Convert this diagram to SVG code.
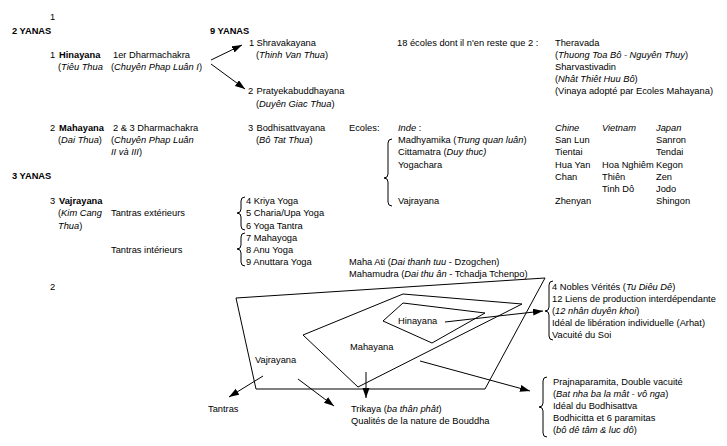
<svg xmlns="http://www.w3.org/2000/svg" width="727" height="446" viewBox="0 0 727 446">
<style>
text{font-family:"Liberation Sans",Arial,sans-serif;font-size:9.3px;fill:#000}
.b{font-weight:bold}
.i{font-style:italic}
.ln{stroke:#000;stroke-width:1;fill:none}
.ar{stroke:#000;stroke-width:1;fill:none;marker-end:url(#ah)}
</style>
<defs>
<marker id="ah" markerUnits="userSpaceOnUse" markerWidth="11" markerHeight="8" refX="10" refY="3.5" orient="auto">
<path d="M0,0 L10,3.5 L0,7 z" fill="#000"/>
</marker>
</defs>
<rect width="727" height="446" fill="#fff"/>

<g id="headers">
<text x="50" y="20">1</text>
<text x="12" y="33.5" class="b">2 YANAS</text>
<text x="210" y="33.5" class="b">9 YANAS</text>
<text x="12" y="179" class="b">3 YANAS</text>
<text x="50" y="289.5">2</text>
</g>

<g id="hinayana">
<text x="50" y="57.7">1</text><text x="59" y="57.7" class="b">Hinayana</text>
<text x="58" y="69.9">(<tspan class="i">Tiêu Thua</tspan></text>
<text x="113" y="57.7">1er Dharmachakra</text>
<text x="111" y="69.9">(<tspan class="i">Chuyên Phap Luân I</tspan>)</text>
</g>

<g id="shravakayana">
<text x="249" y="45.5">1</text><text x="256.5" y="45.5">Shravakayana</text>
<text x="256" y="57.7">(<tspan class="i">Thinh Van Thua</tspan>)</text>
</g>

<g id="pratyekabuddhayana">
<text x="248" y="94.3">2</text><text x="256.5" y="94.3">Pratyekabuddhayana</text>
<text x="256" y="106.5">(<tspan class="i">Duyên Giac Thua</tspan>)</text>
</g>

<g id="ecoles18">
<text x="397" y="45.5">18 écoles dont il n'en reste que 2 :</text>
<text x="555" y="45.5">Theravada</text>
<text x="555" y="57.7">(<tspan class="i">Thuong Toa Bô - Nguyên Thuy</tspan>)</text>
<text x="555" y="69.9">Sharvastivadin</text>
<text x="555" y="82.1">(<tspan class="i">Nhât Thiêt Huu Bô</tspan>)</text>
<text x="555" y="94.3">(Vinaya adopté par Ecoles Mahayana)</text>
</g>

<g id="mahayana">
<text x="50" y="131">2</text><text x="59" y="131" class="b">Mahayana</text>
<text x="58" y="143.1">(<tspan class="i">Dai Thua</tspan>)</text>
<text x="113" y="131">2 &amp; 3 Dharmachakra</text>
<text x="111" y="143.1">(<tspan class="i">Chuyên Phap Luân</tspan></text>
<text x="111" y="155.3" class="i">II và III<tspan style="font-style:normal">)</tspan></text>
</g>

<g id="bodhisattvayana">
<text x="248" y="131">3</text><text x="256.5" y="131">Bodhisattvayana</text>
<text x="256" y="143.1">(<tspan class="i">Bô Tat Thua</tspan>)</text>
</g>

<g id="ecoles">
<text x="349" y="131">Ecoles:</text>
<text x="398" y="131"><tspan class="i">Inde</tspan> :</text>
<text x="398" y="143.1">Madhyamika (<tspan class="i">Trung quan luân</tspan>)</text>
<text x="398" y="155.3">Cittamatra (<tspan class="i">Duy thuc)</tspan></text>
<text x="398" y="167.5">Yogachara</text>
<text x="398" y="204.1">Vajrayana</text>
<text x="555" y="131" class="i">Chine</text>
<text x="602" y="131" class="i">Vietnam</text>
<text x="656" y="131" class="i">Japan</text>
<text x="555" y="143.1">San Lun</text>
<text x="656" y="143.1">Sanron</text>
<text x="555" y="155.3">Tientai</text>
<text x="656" y="155.3">Tendai</text>
<text x="555" y="167.5">Hua Yan</text>
<text x="602" y="167.5">Hoa Nghiêm</text>
<text x="656" y="167.5">Kegon</text>
<text x="555" y="179.7">Chan</text>
<text x="602" y="179.7">Thiên</text>
<text x="656" y="179.7">Zen</text>
<text x="602" y="191.9">Tinh Dô</text>
<text x="656" y="191.9">Jodo</text>
<text x="555" y="204.1">Zhenyan</text>
<text x="656" y="204.1">Shingon</text>
</g>

<g id="vajrayana">
<text x="50" y="204.1">3</text><text x="59" y="204.1" class="b">Vajrayana</text>
<text x="58" y="216.3">(<tspan class="i">Kim Cang</tspan></text>
<text x="58" y="228.5"><tspan class="i">Thua</tspan>)</text>
<text x="111" y="216.3">Tantras extérieurs</text>
<text x="111" y="252.9">Tantras intérieurs</text>
</g>

<g id="tantras9">
<text x="246" y="204.1">4 Kriya Yoga</text>
<text x="246" y="216.3">5 Charia/Upa Yoga</text>
<text x="246" y="228.5">6 Yoga Tantra</text>
<text x="246" y="240.7">7 Mahayoga</text>
<text x="246" y="252.9">8 Anu Yoga</text>
<text x="246" y="265.1">9 Anuttara Yoga</text>
<text x="349" y="265.1">Maha Ati (<tspan class="i">Dai thanh tuu</tspan> - Dzogchen)</text>
<text x="349" y="277.3">Mahamudra (<tspan class="i">Dai thu ân</tspan> - Tchadja Tchenpo)</text>
</g>

<g id="hinayana-qualities">
<text x="552" y="289.5">4 Nobles Vérités (<tspan class="i">Tu Diêu Dê</tspan>)</text>
<text x="552" y="301.7">12 Liens de production interdépendante</text>
<text x="552" y="313.9">(<tspan class="i">12 nhân duyên khoi</tspan>)</text>
<text x="552" y="326.1">Idéal de libération individuelle (Arhat)</text>
<text x="552" y="338.3">Vacuité du Soi</text>
</g>

<g id="mahayana-qualities">
<text x="553" y="384.5">Prajnaparamita, Double vacuité</text>
<text x="553" y="396.7">(<tspan class="i">Bat nha ba la mât - vô nga</tspan>)</text>
<text x="553" y="408.9">Idéal du Bodhisattva</text>
<text x="553" y="421.1">Bodhicitta et 6 paramitas</text>
<text x="553" y="433.3">(<tspan class="i">bô dê tâm &amp; luc dô</tspan>)</text>
</g>

<g id="vajrayana-poly">
<polygon class="ln" points="236,298 545,278 485,389 256,389"/>
<text x="255" y="362.5">Vajrayana</text>
</g>
<g id="mahayana-poly">
<polygon class="ln" points="303,335 403,294 522,304 358,387"/>
<text x="350" y="350">Mahayana</text>
</g>
<g id="hinayana-poly">
<polygon class="ln" points="383,321 403,303 485,313 432,343"/>
<text x="398" y="324">Hinayana</text>
</g>

<g id="tantras-out">
<text x="208" y="411.5">Tantras</text>
</g>
<g id="trikaya">
<text x="351" y="411.5">Trikaya (<tspan class="i">ba thân phât</tspan>)</text>
<text x="351" y="424">Qualités de la nature de Bouddha</text>
</g>

<g id="connectors">
<line class="ar" x1="211" y1="60" x2="242" y2="45"/>
<line class="ar" x1="211" y1="64" x2="245" y2="89"/>
<line class="ar" x1="445" y1="322" x2="543" y2="311"/>
<line class="ar" x1="420" y1="361" x2="530" y2="391"/>
<line class="ar" x1="366" y1="372" x2="366" y2="398"/>
<line class="ar" x1="263" y1="376" x2="229" y2="397"/>
<line class="ar" x1="298" y1="379" x2="334" y2="406"/>
<path class="ln" d="M392,139 Q388,139 388,143 L388,174 Q388,178 384,178 Q388,178 388,182 L388,202 Q388,206 392,206"/>
<path class="ln" d="M245,197 Q241,197 241,201 L241,209 Q241,213 237,213 Q241,213 241,217 L241,226 Q241,230 245,230"/>
<path class="ln" d="M245,233 Q241,233 241,237 L241,245 Q241,249 237,249 Q241,249 241,253 L241,262 Q241,266 245,266"/>
<path class="ln" d="M553,281 Q549,281 549,285 L549,307 Q549,311 545,311 Q549,311 549,315 L549,336 Q549,340 553,340"/>
<path class="ln" d="M547,377 Q543,377 543,381 L543,403 Q543,407 539,407 Q543,407 543,411 L543,433 Q543,437 547,437"/>
</g>
</svg>
